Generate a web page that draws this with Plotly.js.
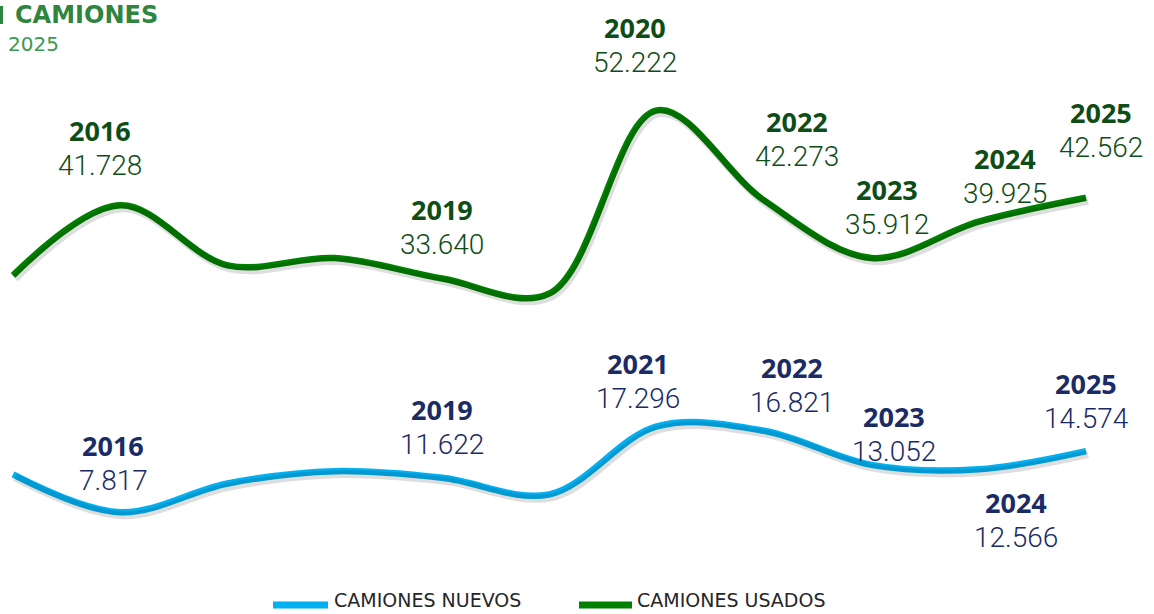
<!DOCTYPE html>
<html>
<head>
<meta charset="utf-8">
<script src="https://cdn.plot.ly/plotly-3.0.1.min.js"></script>
<style>html,body{margin:0;padding:0;background:#fff;}#chart{width:1154px;height:614px;}</style>
</head>
<body>
<div id="chart"></div>
<script>
// ---- data ----
const years = [2015, 2016, 2017, 2018, 2019, 2020, 2021, 2022, 2023, 2024, 2025];
const usados = [34000, 41728, 35100, 35900, 33640, 32000, 52222, 42273, 35912, 39925, 42562];
const nuevos = [12000, 7817, 11000, 12350, 11622, 9800, 17296, 16821, 13052, 12566, 14574];
// year text shown above labelled points ('' = no label)
const usadosLabelYears = ['', '2016', '', '', '2019', '', '2020', '2022', '2023', '2024', '2025'];
const nuevosLabelYears = ['', '2016', '', '', '2019', '', '2021', '2022', '2023', '2024', '2025'];
const seriesNames = ['CAMIONES NUEVOS', 'CAMIONES USADOS'];
const titleText = 'CAMIONES';
const subtitleText = '2025';

// ---- styling / placement ----
const GREEN = '#008000', BLUE = '#00B0F0';
const GREEN_TXT = '#0E4D16', BLUE_TXT = '#1A2B66';
// pixel offsets [dx, dy] of the year label centre relative to the point
const usadosOffsets = {1:[-20,-75], 4:[0,-69], 6:[-22,-83], 7:[33,-79], 8:[16,-69], 9:[26,-63], 10:[15,-85]};
const nuevosOffsets = {1:[-7,-67], 4:[0,-68], 6:[-19,-63], 7:[28,-63], 8:[23,-48], 9:[37,33], 10:[0,-68]};
const VALUE_GAP = 35;

function fmt(v){ return String(v).replace(/\B(?=(\d{3})+(?!\d))/g, '.'); }

const annotations = [];
function addLabels(vals, labelYears, offsets, color){
  vals.forEach((v, i) => {
    if (!labelYears[i]) return;
    const [dx, dy] = offsets[i];
    annotations.push({x: years[i], y: v, xref:'x', yref:'y', text: '<b>' + labelYears[i] + '</b>', showarrow:false,
      xshift: dx, yshift: -dy, xanchor:'center', yanchor:'middle',
      font:{family:'"Open Sans", sans-serif', size:27, color: color}});
    annotations.push({x: years[i], y: v, xref:'x', yref:'y', text: fmt(v), showarrow:false,
      xshift: dx, yshift: -(dy + VALUE_GAP), xanchor:'center', yanchor:'middle',
      font:{family:'Roboto, sans-serif', size:28, weight:300, color: color}});
  });
}
addLabels(usados, usadosLabelYears, usadosOffsets, GREEN_TXT);
addLabels(nuevos, nuevosLabelYears, nuevosOffsets, BLUE_TXT);

// title
annotations.push({xref:'paper', yref:'paper', x: 13/1154, y: (583-15)/543, text:'<b>' + titleText + '</b>', showarrow:false,
  xanchor:'left', yanchor:'middle', font:{family:'"DejaVu Sans", sans-serif', size:24, color:'#2E8540'}});
annotations.push({xref:'paper', yref:'paper', x: 6/1154, y: (583-44)/543, text: subtitleText, showarrow:false,
  xanchor:'left', yanchor:'middle', font:{family:'"DejaVu Sans", sans-serif', size:20, color:'#3A9A4E'}});

// manual legend
const legY = (583-605)/543;
const legTextY = (583-600)/543;
annotations.push({xref:'paper', yref:'paper', x: 332/1154, y: legTextY, text: seriesNames[0], showarrow:false,
  xanchor:'left', yanchor:'middle', font:{family:'"DejaVu Sans", sans-serif', size:19, color:'#262626'}});
annotations.push({xref:'paper', yref:'paper', x: 635/1154, y: legTextY, text: seriesNames[1], showarrow:false,
  xanchor:'left', yanchor:'middle', font:{family:'"DejaVu Sans", sans-serif', size:19, color:'#262626'}});
const shapes = [
  {type:'rect', xref:'paper', yref:'paper', x0: 0, x1: 3/1154, y0:(583-24)/543, y1:(583-6)/543, fillcolor:'#2E8540', line:{width:0}},
  {type:'line', xref:'paper', yref:'paper', x0: 273/1154, x1: 328/1154, y0: legY, y1: legY, line:{color:BLUE, width:7}},
  {type:'line', xref:'paper', yref:'paper', x0: 579/1154, x1: 632/1154, y0: legY, y1: legY, line:{color:GREEN, width:7}}
];

const xr = [2015 - 13/107.3, 2015 + (1154-13)/107.3];
const pxPerUnitY = 543/60000;
const shadowDx = 2/107.3, shadowDy = 3/pxPerUnitY;

const traces = [
  {x: years, y: nuevos, xaxis:'x2', yaxis:'y2', mode:'lines', line:{shape:'spline', color:'rgba(0,0,0,0.13)', width:8}, hoverinfo:'skip', showlegend:false},
  {x: years, y: usados, xaxis:'x2', yaxis:'y2', mode:'lines', line:{shape:'spline', color:'rgba(0,0,0,0.13)', width:8}, hoverinfo:'skip', showlegend:false},
  {x: years, y: nuevos, name: seriesNames[0], mode:'lines', line:{shape:'spline', color:BLUE, width:6.5}},
  {x: years, y: usados, name: seriesNames[1], mode:'lines', line:{shape:'spline', color:GREEN, width:6.5}}
];

const layout = {
  width:1154, height:614,
  margin:{l:0, r:0, t:40, b:31, pad:0},
  paper_bgcolor:'#fff', plot_bgcolor:'#fff',
  showlegend:false,
  xaxis:{range: xr, visible:false, fixedrange:true},
  yaxis:{range:[0,60000], visible:false, fixedrange:true},
  xaxis2:{range:[xr[0]-shadowDx, xr[1]-shadowDx], overlaying:'x', visible:false},
  yaxis2:{range:[shadowDy, 60000+shadowDy], overlaying:'y', visible:false},
  annotations: annotations,
  shapes: shapes
};

Plotly.newPlot('chart', traces, layout, {staticPlot:true, displayModeBar:false});
</script>
</body>
</html>
